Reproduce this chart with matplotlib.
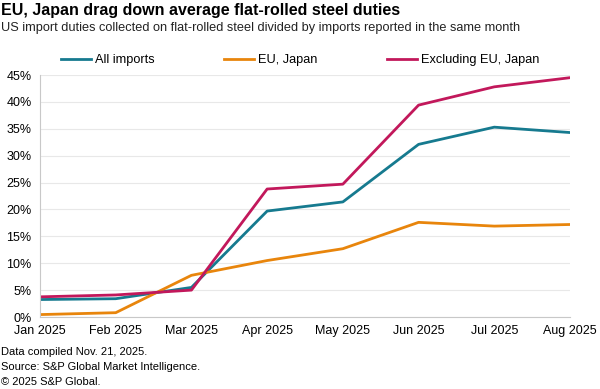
import numpy as np
import matplotlib.pyplot as plt
from matplotlib.ticker import FuncFormatter

plt.rcParams['font.family'] = ['Liberation Sans', 'DejaVu Sans']

months = ["Jan 2025", "Feb 2025", "Mar 2025", "Apr 2025",
          "May 2025", "Jun 2025", "Jul 2025", "Aug 2025"]
all_imports = [3.25, 3.4, 5.5, 19.7, 21.4, 32.1, 35.3, 34.3]
eu_japan = [0.45, 0.8, 7.75, 10.5, 12.7, 17.6, 16.9, 17.2]
excl_eu_japan = [3.75, 4.1, 5.0, 23.8, 24.7, 39.4, 42.8, 44.5]

fig = plt.figure(figsize=(6, 3.89), dpi=100)
ax = fig.add_axes([40/600, 72/389, 530/600, 242/389])

x = np.arange(len(months))
ax.plot(x, all_imports, color="#167a8f", lw=2, label="All imports")
ax.plot(x, eu_japan, color="#e8850c", lw=2, label="EU, Japan")
ax.plot(x, excl_eu_japan, color="#c2185b", lw=2, label="Excluding EU, Japan")

ax.set_xlim(0, len(months) - 1)
ax.set_ylim(0, 45)
ax.set_yticks(np.arange(0, 46, 5))
ax.yaxis.set_major_formatter(FuncFormatter(lambda v, p: f"{v:.0f}%"))
ax.set_xticks(x)
ax.set_xticklabels(months)
ax.tick_params(axis="both", length=0, labelsize=9, colors="#000000")
ax.tick_params(axis="y", pad=6)
ax.tick_params(axis="x", pad=6)
ax.grid(axis="y", color="#e8e8e8", lw=0.8)
for s in ["top", "right"]:
    ax.spines[s].set_visible(False)
ax.spines["left"].set_color("#c8c8c8")
ax.spines["bottom"].set_color("#c8c8c8")
ax.set_axisbelow(True)

fig.text(0.002, 1 - 10/389, "EU, Japan drag down average flat-rolled steel duties",
         fontsize=11.5, fontweight="bold", va="center")
fig.text(0.002, 1 - 28/389, "US import duties collected on flat-rolled steel divided by imports reported in the same month",
         fontsize=9.2, va="center", color="#222222")

fig.legend(loc="center", bbox_to_anchor=(0.5, 1 - 60/389), ncol=3, frameon=False,
           fontsize=9.2, handlelength=2.4, columnspacing=5.4, handletextpad=0.3)

fig.text(0.002, 1 - 352/389, "Data compiled Nov. 21, 2025.", fontsize=8, va="center")
fig.text(0.002, 1 - 367/389, "Source: S&P Global Market Intelligence.", fontsize=8, va="center")
fig.text(0.002, 1 - 382/389, "\u00a9 2025 S&P Global.", fontsize=8, va="center")

fig.savefig("out.png", dpi=100)
